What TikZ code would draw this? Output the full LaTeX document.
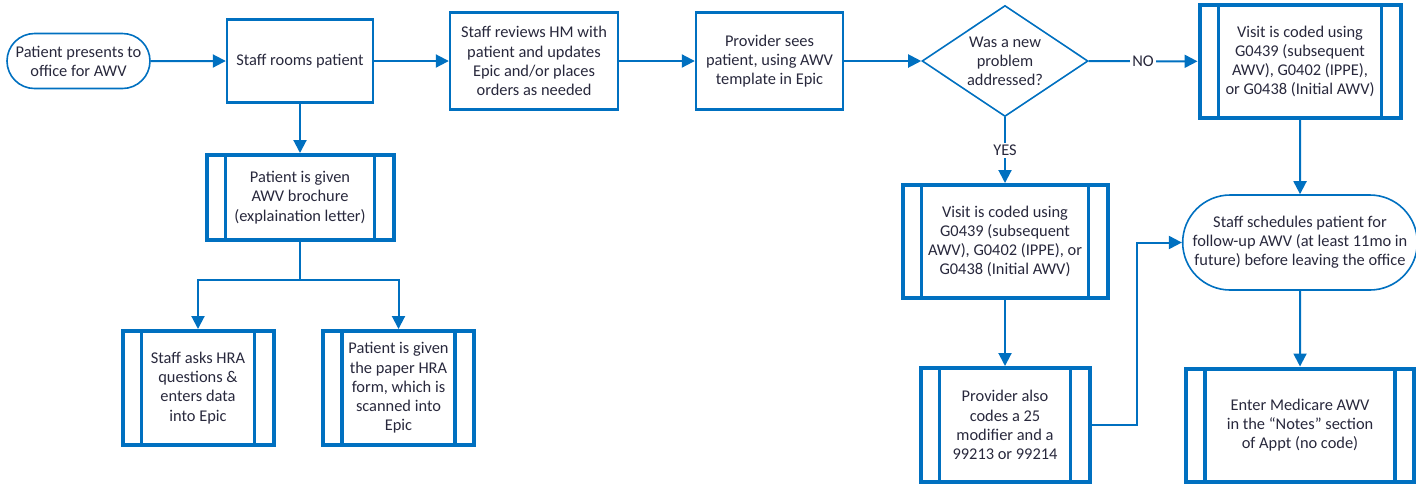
\documentclass[tikz,border=0pt]{standalone}
\usepackage{fontspec}
\setmainfont{Carlito}
\usepackage{tikz}
\usetikzlibrary{positioning,arrows.meta,shapes.geometric,shapes.misc}
\definecolor{awvblue}{RGB}{0,112,192}
\definecolor{awvtext}{RGB}{40,40,60}

\begin{document}
\begin{tikzpicture}[
    x=0.5pt, y=-0.5pt,
    every node/.style={font=\fontsize{8.2}{9.6}\selectfont, text=awvtext},
    term/.style={rounded rectangle, draw=awvblue, line width=0.8pt, align=center, inner sep=1pt},
    proc/.style={rectangle, draw=awvblue, line width=1.2pt, align=center},
    sub/.style={rectangle, draw=awvblue, line width=2pt, align=center,
                path picture={
                  \draw[awvblue, line width=1.7pt]
                    ([xshift=9.5pt]path picture bounding box.north west) -- ([xshift=9.5pt]path picture bounding box.south west)
                    ([xshift=-9.5pt]path picture bounding box.north east) -- ([xshift=-9.5pt]path picture bounding box.south east);}},
    dec/.style={diamond, draw=awvblue, line width=0.8pt, aspect=1.5, inner sep=0pt, align=center},
    arr/.style={-{Triangle[length=6.5pt, width=6.5pt]}, line width=1pt, draw=awvblue},
    link/.style={line width=1pt, draw=awvblue},
    lbl/.style={fill=white, inner sep=1pt}
]
\useasboundingbox (0,0) rectangle (1416,484);

% top row
\node[term, minimum width=73.5pt, minimum height=27.5pt] (start) at (78.5,61) {Patient presents to\\office for AWV};
\node[proc, minimum width=73pt, minimum height=41.5pt] (rooms) at (300,61) {Staff rooms patient};
\node[proc, minimum width=84pt, minimum height=48.5pt] (review) at (534,61) {Staff reviews HM with\\patient and updates\\Epic and/or places\\orders as needed};
\node[proc, minimum width=73.5pt, minimum height=48.5pt] (sees) at (769.5,61) {Provider sees\\patient, using AWV\\template in Epic};
\node[dec, minimum width=83pt, minimum height=55.5pt] (newprob) at (1005,61) {Was a new\\problem\\addressed?};
\node[sub, minimum width=100.5pt, minimum height=56.5pt] (codedno) at (1300,61.5) {Visit is coded using\\G0439 (subsequent\\AWV), G0402 (IPPE),\\or G0438 (Initial AWV)};

% left branch
\node[sub, minimum width=93.5pt, minimum height=42.5pt] (brochure) at (300,197.5) {Patient is given\\AWV brochure\\(explaination letter)};
\node[sub, minimum width=75.5pt, minimum height=57pt] (askhra) at (198,388) {Staff asks HRA\\questions \&\\enters data\\into Epic};
\node[sub, minimum width=75.5pt, minimum height=57pt] (paperhra) at (398.5,388) {Patient is given\\the paper HRA\\form, which is\\scanned into\\Epic};
\coordinate (split) at (300,280);

% right branch
\node[sub, minimum width=102.5pt, minimum height=56.5pt] (codedyes) at (1005,241.5) {Visit is coded using\\G0439 (subsequent\\AWV), G0402 (IPPE), or\\G0438 (Initial AWV)};
\node[sub, minimum width=84.5pt, minimum height=57pt] (modifier) at (1005,425) {Provider also\\codes a 25\\modifier and a\\99213 or 99214};
\node[term, minimum width=116.5pt, minimum height=47.5pt] (schedule) at (1300,242.5) {Staff schedules patient for\\follow-up AWV (at least 11mo in\\future) before leaving the office};
\node[sub, minimum width=114pt, minimum height=56.5pt] (medicare) at (1300,425) {Enter Medicare AWV\\in the “Notes” section\\of Appt (no code)};
\coordinate (bend) at (1137,425);

\draw[arr] (start) -- (rooms);
\draw[arr] (rooms) -- (review);
\draw[arr] (review) -- (sees);
\draw[arr] (sees) -- (newprob);
\draw[arr] (newprob) -- node[lbl] {NO} (codedno);
\draw[arr] (newprob) -- node[lbl] {YES} (codedyes);
\draw[arr] (rooms) -- (brochure);
\draw[link] (brochure) -- (split);
\draw[arr] (split) -| (askhra);
\draw[arr] (split) -| (paperhra);
\draw[arr] (codedyes) -- (modifier);
\draw[arr] (codedno) -- (schedule);
\draw[arr] (schedule) -- (medicare);
\draw[arr] (modifier.east) -- (bend) |- (schedule);
\end{tikzpicture}
\end{document}
